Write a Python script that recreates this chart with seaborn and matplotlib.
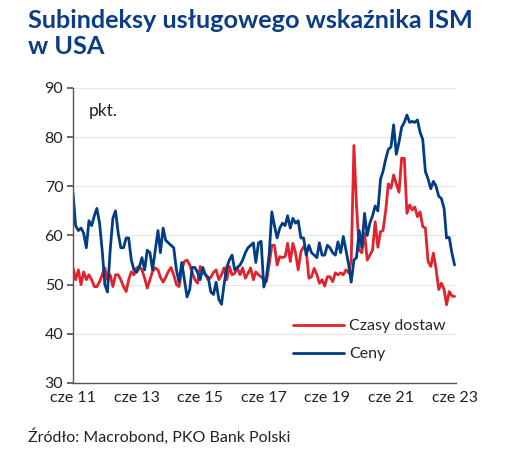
import matplotlib
matplotlib.use("Agg")
import matplotlib.pyplot as plt
import seaborn as sns
import pandas as pd

# ── Data: monthly readings, cze 2011 – cze 2023 ───────────────────────────
start_month = "2011-06-01"

czasy_dostaw = [
    53.4, 51.0, 53.0, 50.0, 52.6, 51.0, 52.0, 51.0, 49.6, 49.6,
    50.6, 52.0, 53.4, 51.0, 52.0, 49.6, 52.0, 52.0, 51.0, 49.6,
    48.6, 51.0, 52.6, 52.0, 53.4, 53.7, 53.0, 51.3, 49.3, 51.0,
    52.7, 53.4, 53.0, 51.5, 50.5, 51.5, 52.7, 53.5, 52.0, 50.0,
    49.6, 53.0, 54.7, 55.0, 54.0, 52.5, 51.0, 50.3, 53.7, 52.5,
    52.0, 51.0, 51.5, 52.5, 53.0, 51.0, 52.0, 53.4, 51.0, 53.7,
    52.0, 52.3, 53.4, 52.0, 53.4, 51.3, 52.3, 53.4, 51.0, 52.6,
    52.0, 51.6, 51.0, 50.6, 54.0, 58.0, 58.0, 54.0, 55.7, 55.5,
    55.7, 58.4, 54.7, 58.4, 56.4, 53.0, 56.7, 57.7, 57.0, 51.3,
    51.6, 53.3, 52.0, 50.3, 51.0, 49.7, 51.6, 51.6, 50.6, 52.4,
    52.0, 52.4, 52.0, 53.0, 52.4, 55.0, 78.3, 66.0, 57.0, 56.5,
    60.5, 55.0, 56.0, 57.0, 62.8, 57.6, 60.8, 61.0, 65.0, 70.5,
    69.6, 72.3, 70.5, 68.8, 75.7, 75.7, 64.5, 66.2, 65.2, 65.8,
    63.8, 64.8, 61.8, 61.5, 54.7, 53.7, 56.4, 53.2, 49.0, 50.3,
    49.0, 45.9, 48.6, 47.7, 47.6,
]

ceny = [
    68.6, 62.0, 61.0, 61.5, 60.5, 57.5, 63.0, 62.0, 64.0, 65.5,
    62.5, 57.0, 50.0, 48.5, 57.0, 63.5, 65.0, 60.5, 57.5, 57.5,
    59.5, 59.5, 55.0, 53.0, 52.5, 53.5, 55.5, 53.0, 57.0, 56.5,
    53.0, 57.0, 61.0, 56.5, 61.5, 59.0, 58.5, 58.0, 57.5, 53.0,
    50.5, 54.5, 51.0, 47.5, 49.0, 53.5, 53.5, 52.5, 51.0, 53.5,
    52.0, 51.5, 48.5, 48.0, 50.5, 47.0, 46.0, 50.0, 53.5, 55.0,
    56.0, 53.0, 53.5, 54.0, 55.0, 56.5, 57.5, 58.0, 58.5, 54.5,
    58.5, 58.8, 49.5, 51.5, 56.0, 64.8, 62.0, 59.5, 61.5, 62.5,
    62.0, 64.0, 61.5, 63.5, 62.5, 63.0, 59.5, 59.5, 56.0, 58.0,
    56.5, 56.0, 55.5, 58.5, 56.0, 56.0, 58.0, 57.5, 56.5, 56.0,
    58.7, 56.5, 59.8, 57.0, 54.0, 50.5, 55.0, 55.5, 61.0, 57.6,
    64.5, 60.0, 62.5, 64.0, 66.0, 65.0, 71.5, 73.0, 75.5, 77.5,
    78.0, 82.5, 76.5, 79.0, 82.0, 83.0, 84.5, 83.0, 83.2, 83.0,
    83.5, 81.0, 79.5, 73.0, 71.5, 69.5, 71.0, 70.0, 68.0, 67.5,
    65.5, 59.5, 59.6, 56.5, 54.0,
]

series_names = ["Czasy dostaw", "Ceny"]
tick_years = [2011, 2013, 2015, 2017, 2019, 2021, 2023]

RED = "#e2232e"
BLUE = "#003d84"
TITLE_BLUE = "#0b3d86"

dates = pd.date_range(start_month, periods=len(ceny), freq="MS")
df = pd.DataFrame({"data": dates, series_names[0]: czasy_dostaw, series_names[1]: ceny})
long = df.melt(id_vars="data", var_name="seria", value_name="wartosc")

sns.set_theme(style="white")
plt.rcParams["font.family"] = ["Lato", "DejaVu Sans"]

fig = plt.figure(figsize=(5.23, 4.57), dpi=100)
ax = fig.add_axes([0.1396, 0.162, 0.733, 0.6455])

sns.lineplot(
    data=long, x="data", y="wartosc", hue="seria",
    palette={series_names[0]: RED, series_names[1]: BLUE},
    linewidth=2.0, ax=ax,
)

ax.set_ylim(30, 90)
ax.set_yticks(range(30, 91, 10))
ax.set_xlim(pd.Timestamp("2011-06-01"), pd.Timestamp("2023-06-22"))
ax.set_xticks([pd.Timestamp(f"{y}-06-01") for y in tick_years])
ax.set_xticklabels([f"cze {y % 100:02d}" for y in tick_years])
ax.set_xlabel("")
ax.set_ylabel("")

ax.grid(axis="y", color="#e6e6e6", linewidth=0.8)
ax.set_axisbelow(True)
for side in ["top", "right"]:
    ax.spines[side].set_visible(False)
for side in ["left", "bottom"]:
    ax.spines[side].set_color("#555555")
    ax.spines[side].set_linewidth(1.0)

ax.tick_params(axis="x", direction="in", length=4, color="#555555",
               labelsize=11.5, labelcolor="#222222", pad=6)
ax.tick_params(axis="y", direction="out", length=4, color="#555555",
               labelsize=11.5, labelcolor="#222222", pad=3, left=True)

ax.text(0.04, 0.95, "pkt.", transform=ax.transAxes, fontsize=12.5,
        color="#222222", va="top", ha="left")

leg = ax.legend(loc="lower right", bbox_to_anchor=(1.01, 0.025), frameon=False,
                fontsize=11.5, handlelength=3.2, handletextpad=0.35,
                labelspacing=0.85)
for line in leg.get_lines():
    line.set_linewidth(2.0)

fig.text(0.054, 0.98, "Subindeksy usługowego wskaźnika ISM\nw USA",
         fontsize=18.2, fontweight="bold", color=TITLE_BLUE, va="top",
         ha="left", linespacing=1.15)
fig.text(0.054, 0.045, "Źródło: Macrobond, PKO Bank Polski", fontsize=11.5,
         color="#222222", ha="left", va="center")

fig.savefig("out.png", dpi=100)
